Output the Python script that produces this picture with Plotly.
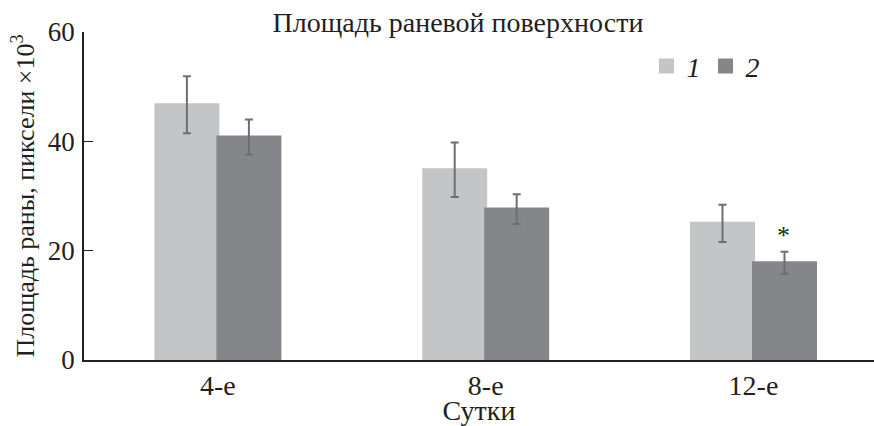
import plotly.graph_objects as go

categories = ["4-е", "8-е", "12-е"]
series1 = [46.7, 34.8, 25.0]
err1 = [5.2, 5.0, 3.4]
series2 = [40.8, 27.6, 17.8]
err2 = [3.2, 2.7, 2.0]
names = ["<i>1</i>", "<i>2</i>"]
y_ticks = [0, 20, 40, 60]

FONT = "Liberation Serif, Times New Roman, serif"
TXT = "#231f20"
C1 = "#c4c5c7"
C2 = "#858689"

fig = go.Figure()
fig.add_trace(go.Bar(
    x=categories, y=series1, name=names[0],
    marker=dict(color=C1, line=dict(width=3, color=C1)),
    error_y=dict(type="data", array=err1, color="#6d6e71", thickness=2, width=4),
))
fig.add_trace(go.Bar(
    x=categories, y=series2, name=names[1],
    marker=dict(color=C2, line=dict(width=3, color=C2)),
    error_y=dict(type="data", array=err2, color="#6d6e71", thickness=2, width=4),
))

fig.add_annotation(x=2, xshift=30, y=series2[2] + err2[2] + 3.0, text="*",
                   showarrow=False, font=dict(family=FONT, size=26, color=TXT))

fig.update_layout(
    width=874, height=426,
    margin=dict(l=84, r=0, t=32, b=66),
    plot_bgcolor="white", paper_bgcolor="white",
    barmode="group", bargap=0.537, bargroupgap=0,
    font=dict(family=FONT, size=26, color=TXT),
    title=dict(text="Площадь раневой поверхности", x=0.524, xanchor="center",
               y=1 - 22 / 426, yanchor="middle", font=dict(family=FONT, size=28, color=TXT),
               automargin=False),
    legend=dict(orientation="h", x=0.712, y=0.972, xanchor="left", yanchor="top",
                font=dict(family=FONT, size=28, color=TXT), bgcolor="rgba(0,0,0,0)",
                itemwidth=30, traceorder="normal"),
    xaxis=dict(
        range=[-0.5, 2.45], showline=True, linecolor="#231f20", linewidth=1.5,
        ticks="", showgrid=False, zeroline=False, automargin=False,
        title=dict(text="Сутки", font=dict(family=FONT, size=28, color=TXT), standoff=4),
        tickfont=dict(family=FONT, size=28, color=TXT),
    ),
    yaxis=dict(
        range=[0, 60], tickvals=y_ticks, showline=True, linecolor="#231f20", linewidth=1.5,
        ticks="inside", ticklen=9, tickcolor="#231f20", tickwidth=1.2,
        showgrid=False, zeroline=False, ticklabelstandoff=2, automargin=False,
        title=dict(text="Площадь раны, пиксели ×10<sup>3</sup>",
                   font=dict(family=FONT, size=26, color=TXT), standoff=6),
        tickfont=dict(family=FONT, size=27, color=TXT),
    ),
)

fig.write_html("out.html", config={"displayModeBar": False},
               post_script="document.body.style.margin='0';document.body.style.overflow='hidden';")
